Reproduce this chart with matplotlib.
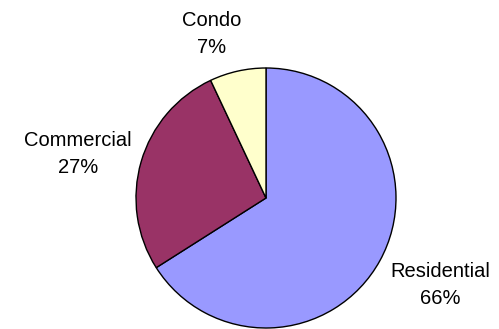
import matplotlib
matplotlib.use("Agg")
import matplotlib.pyplot as plt

categories = ["Residential", "Commercial", "Condo"]
values = [66, 27, 7]
colors = ["#9999FF", "#993366", "#FFFFCC"]
label_pos = [(1.338, -0.67), (-1.446, 0.34), (-0.415, 1.262)]

plt.rcParams['font.family'] = ['Liberation Sans', 'DejaVu Sans']
fig = plt.figure(figsize=(4.99, 3.29), dpi=100)
ax = fig.add_axes([0, 0, 1, 1])
ax.pie(values, colors=colors, startangle=90, counterclock=False, radius=1.0,
       wedgeprops=dict(edgecolor="black", linewidth=1.0))
total = sum(values)
for cat, v, (x, y) in zip(categories, values, label_pos):
    ax.text(x, y, f"{cat}\n{round(100*v/total)}%", ha="center", va="center",
            fontsize=14.5, linespacing=1.55)
ax.set_xlim(-266/130, (499-266)/130)
ax.set_ylim(-131/130, 198/130)
ax.set_aspect("auto")
ax.axis("off")
fig.savefig("out.png", dpi=100)
